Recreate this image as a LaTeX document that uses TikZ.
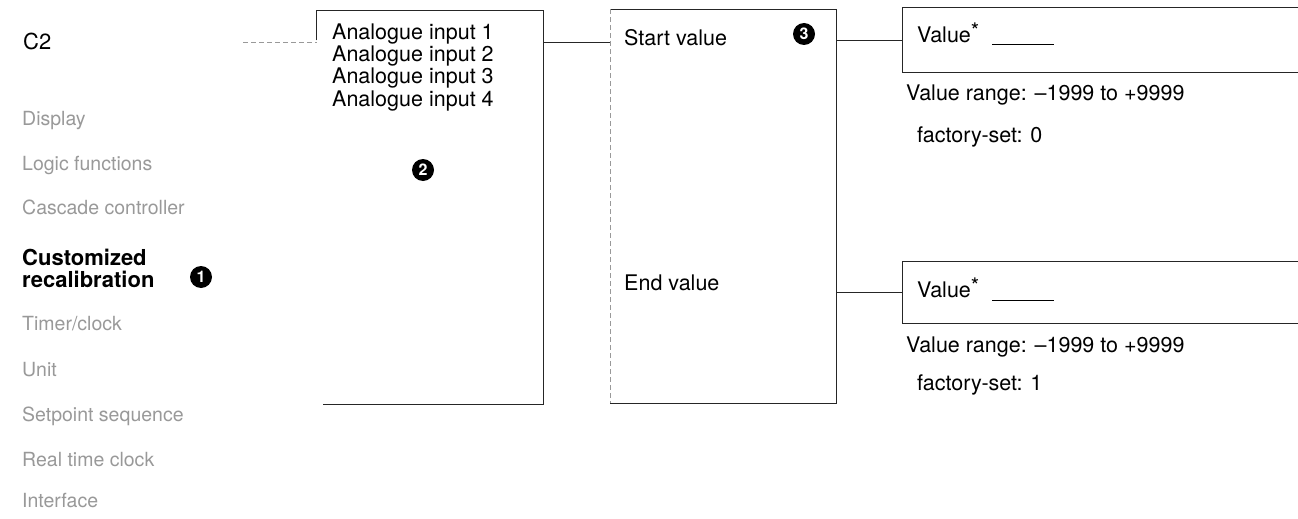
\documentclass[tikz,border=0pt]{standalone}
\usepackage{fontspec}
\setmainfont{TeX Gyre Heros}
\usetikzlibrary{calc}
\begin{document}
\begin{tikzpicture}[x=1pt,y=-1pt,
  txt/.style={anchor=base west, inner sep=0pt, font=\fontsize{21.5}{24}\selectfont},
  menu/.style={anchor=base west, inner sep=0pt, font=\fontsize{19.5}{22}\selectfont, text=black!40},
  boxline/.style={draw=black!85, line width=0.8pt},
  faint/.style={draw=black!40, line width=0.8pt, dash pattern=on 5pt off 3pt},
  bullet/.style={circle, fill=black, text=white, inner sep=0pt, minimum size=22pt, font=\fontsize{16}{16}\selectfont\bfseries},
  frame/.style={rectangle, inner sep=0pt, draw=none}]
\useasboundingbox (0,0) rectangle (1298,519);
\fill[white] (0,0) rectangle (1298,519);

% frames
\node[frame, minimum width=226pt, minimum height=393.5pt] (b2) at (430,207.25) {};
\node[frame, minimum width=225.5pt, minimum height=393.5pt] (b3) at (723.25,206.25) {};
\node[frame, minimum width=395pt, minimum height=64pt] (b4) at (1100.5,40) {};
\node[frame, minimum width=395pt, minimum height=61pt] (b5) at (1100.5,292.5) {};

% box outlines
\draw[boxline] ($(b2.north west)+(0,30)$) -- (b2.north west) -- (b2.north east) -- (b2.south east) -- ($(b2.south west)+(6,0)$);
\draw[boxline] (b3.north west) -- (b3.north east) -- (b3.south east) -- (b3.south west);
\draw[faint] (b3.north west) -- (b3.south west);
\draw[boxline] (b4.north east) -- (b4.north west) -- (b4.south west) -- (b4.south east);
\draw[boxline] (b5.north east) -- (b5.north west) -- (b5.south west) -- (b5.south east);

% left column
\node[txt, font=\fontsize{22}{24}\selectfont] (c2) at (23,49) {C2};
\node[menu] (m1) at (22,125) {Display};
\node[menu] (m2) at (22,170) {Logic functions};
\node[menu] (m3) at (22,214) {Cascade controller};
\node[txt, font=\fontsize{22}{22}\selectfont\bfseries] (m4a) at (22,265.5) {Customized};
\node[txt, font=\fontsize{22}{22}\selectfont\bfseries] (m4b) at (22,287.5) {recalibration};
\node[menu] (m5) at (22,330) {Timer/clock};
\node[menu] (m6) at (22,376) {Unit};
\node[menu] (m7) at (22,421) {Setpoint sequence};
\node[menu] (m8) at (22,466) {Real time clock};
\node[menu] (m9) at (22,507) {Interface};
\node[bullet] (n1) at (201,277) {1};

% C2 link
\coordinate (c2link) at (243,42);
\draw[faint] (c2link) -- (b2.west |- c2link);

% box 2 texts
\node[txt] (a1) at (332,39.5) {Analogue input 1};
\node[txt] (a2) at (332,61.5) {Analogue input 2};
\node[txt] (a3) at (332,84) {Analogue input 3};
\node[txt] (a4) at (332,106) {Analogue input 4};
\node[bullet] (n2) at (423,170) {2};

% box 3 texts
\node[txt] (sv) at (624,45.7) {Start value};
\node[txt] (ev) at (624,290.7) {End value};
\node[bullet] (n3) at (804,34) {3};

% connectors
\draw[boxline] (b2.east |- c2link) -- (b3.west |- c2link);
\draw[boxline] (b3.east |- b4.west) -- (b4.west);
\draw[boxline] (b3.east |- b5.west) -- (b5.west);

% right side texts
\node[txt] (v1) at (917,42.7) {Value\raisebox{4pt}{*}\hspace{13pt}\rule[-2.5pt]{62pt}{0.7pt}};
\node[txt] (r1) at (906,100.7) {Value range: –1999 to +9999};
\node[txt] (f1) at (917,142.7) {factory-set: 0};
\node[txt] (v2) at (917,297.7) {Value\raisebox{4pt}{*}\hspace{13pt}\rule[-2.5pt]{62pt}{0.7pt}};
\node[txt] (r2) at (906,352.7) {Value range: –1999 to +9999};
\node[txt] (f2) at (917,390.7) {factory-set: 1};
\end{tikzpicture}
\end{document}
